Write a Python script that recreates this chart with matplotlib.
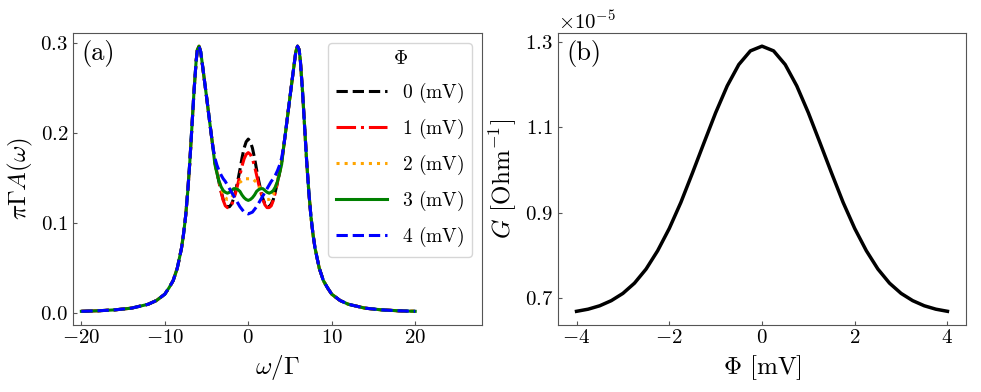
import numpy as np
import matplotlib
matplotlib.use("Agg")
import matplotlib.pyplot as plt

plt.rcParams["font.family"] = "serif"
plt.rcParams["font.serif"] = ["cmr10"]
plt.rcParams["mathtext.fontset"] = "cm"
plt.rcParams["axes.formatter.use_mathtext"] = True
plt.rcParams["axes.unicode_minus"] = True

# panel (a): spectral function, outer parts shared by all curves
omega_left = [-20, -18, -16, -14, -12, -11, -10, -9.5, -9, -8.5, -8, -7.75, -7.5,
              -7.25, -7, -6.75, -6.5, -6.25, -6.1, -5.9, -5.7, -5.5, -5, -4.5, -4.25]
A_left = [0.002, 0.0026, 0.0036, 0.0055, 0.0098, 0.014, 0.021, 0.028, 0.036, 0.050,
          0.072, 0.088, 0.108, 0.135, 0.168, 0.207, 0.246, 0.279, 0.292, 0.296,
          0.290, 0.276, 0.240, 0.203, 0.185]

omega_right = [4.25, 4.5, 5, 5.5, 5.7, 5.9, 6.1, 6.25, 6.5, 6.75, 7, 7.25, 7.5, 7.75,
               8, 8.5, 9, 9.5, 10, 11, 12, 14, 16, 18, 20]
A_right = [0.185, 0.203, 0.240, 0.276, 0.290, 0.296, 0.292, 0.279, 0.246, 0.207,
           0.168, 0.135, 0.108, 0.088, 0.072, 0.050, 0.036, 0.028, 0.021, 0.014,
           0.0098, 0.0055, 0.0036, 0.0026, 0.002]

omega_center = [-4, -3.75, -3.5, -3.25, -3, -2.75, -2.5, -2.25, -2, -1.75, -1.5, -1.25,
                -1, -0.75, -0.5, -0.25, 0, 0.25, 0.5, 0.75, 1, 1.25, 1.5, 1.75, 2,
                2.25, 2.5, 2.75, 3, 3.25, 3.5, 3.75, 4]

A_phi0 = [0.168, 0.156, 0.145, 0.135, 0.126, 0.121, 0.118, 0.118, 0.121, 0.127, 0.136,
          0.147, 0.159, 0.172, 0.183, 0.190, 0.193, 0.190, 0.183, 0.172, 0.159, 0.147,
          0.136, 0.127, 0.121, 0.118, 0.118, 0.121, 0.126, 0.135, 0.145, 0.156, 0.168]
A_phi1 = [0.168, 0.156, 0.145, 0.134, 0.125, 0.119, 0.117, 0.117, 0.120, 0.126, 0.134,
          0.143, 0.153, 0.163, 0.171, 0.176, 0.178, 0.176, 0.171, 0.163, 0.153, 0.143,
          0.134, 0.126, 0.120, 0.117, 0.117, 0.119, 0.125, 0.134, 0.145, 0.156, 0.168]
A_phi2 = [0.168, 0.157, 0.147, 0.139, 0.132, 0.128, 0.126, 0.126, 0.128, 0.132, 0.137,
          0.141, 0.145, 0.147, 0.149, 0.149, 0.149, 0.149, 0.149, 0.147, 0.145, 0.141,
          0.137, 0.132, 0.128, 0.126, 0.126, 0.128, 0.132, 0.139, 0.147, 0.157, 0.168]
A_phi3 = [0.165, 0.155, 0.146, 0.140, 0.136, 0.134, 0.133, 0.134, 0.136, 0.138, 0.138,
          0.137, 0.135, 0.131, 0.128, 0.126, 0.125, 0.126, 0.128, 0.131, 0.135, 0.137,
          0.138, 0.138, 0.136, 0.134, 0.133, 0.134, 0.136, 0.140, 0.146, 0.155, 0.165]
A_phi4 = [0.172, 0.164, 0.158, 0.153, 0.149, 0.146, 0.142, 0.138, 0.134, 0.130, 0.126,
          0.122, 0.118, 0.115, 0.112, 0.111, 0.110, 0.111, 0.112, 0.115, 0.118, 0.122,
          0.126, 0.130, 0.134, 0.138, 0.142, 0.146, 0.149, 0.153, 0.158, 0.164, 0.172]

phi_labels = ["0", "1", "2", "3", "4"]
styles = [("black", "--"), ("red", "-."), ("orange", ":"), ("green", "-"), ("blue", "--")]

# panel (b): conductance vs Phi (units of 1e-5 Ohm^-1)
phi = [-4, -3.75, -3.5, -3.25, -3, -2.75, -2.5, -2.25, -2, -1.75, -1.5, -1.25, -1,
       -0.75, -0.5, -0.25, 0, 0.25, 0.5, 0.75, 1, 1.25, 1.5, 1.75, 2, 2.25, 2.5, 2.75,
       3, 3.25, 3.5, 3.75, 4]
G = [0.669, 0.674, 0.682, 0.694, 0.711, 0.735, 0.768, 0.811, 0.863, 0.924, 0.993,
     1.064, 1.134, 1.197, 1.247, 1.279, 1.290, 1.279, 1.247, 1.197, 1.134, 1.064,
     0.993, 0.924, 0.863, 0.811, 0.768, 0.735, 0.711, 0.694, 0.682, 0.674, 0.669]


def style_axes(ax):
    for s in ax.spines.values():
        s.set_color("#555555")
    ax.tick_params(direction="in", length=3, color="#555555", labelsize=15)


def main():
    fig = plt.figure(figsize=(9.81, 3.92), dpi=100)
    ax1 = fig.add_axes([0.0744, 0.172, 0.4169, 0.744])
    ax2 = fig.add_axes([0.5688, 0.172, 0.4159, 0.744])

    curves = [A_phi0, A_phi1, A_phi2, A_phi3, A_phi4]
    for lab, vals, (c, ls) in zip(phi_labels, curves, styles):
        x = omega_left + omega_center + omega_right
        y = A_left + vals + A_right
        ax1.plot(x, y, color=c, linestyle=ls, linewidth=2.2, label=r"$%s$ (mV)" % lab)

    ax1.set_xlim(-21, 28)
    ax1.set_xticks([-20, -10, 0, 10, 20])
    ax1.set_yticks([0.0, 0.1, 0.2, 0.3])
    ax1.set_xlabel(r"$\omega/\Gamma$", fontsize=18)
    ax1.set_ylabel(r"$\pi\Gamma A(\omega)$", fontsize=18)
    ax1.text(0.02, 0.975, "(a)", transform=ax1.transAxes, fontsize=19, va="top", ha="left")
    ax1.legend(title=r"$\Phi$", loc="upper right", fontsize=14, title_fontsize=14,
               handlelength=2.6, labelspacing=0.62)
    style_axes(ax1)

    ax2.plot(phi, np.array(G) * 1e-5, color="black", linewidth=2.5)
    ax2.set_xticks([-4, -2, 0, 2, 4])
    ax2.set_yticks(np.array([0.7, 0.9, 1.1, 1.3]) * 1e-5)
    ax2.ticklabel_format(axis="y", style="sci", scilimits=(0, 0), useMathText=True)
    ax2.yaxis.get_offset_text().set_fontsize(15)
    ax2.set_xlabel(r"$\Phi$ [mV]", fontsize=18)
    ax2.set_ylabel(r"$G$ [Ohm$^{-1}$]", fontsize=18)
    ax2.text(0.02, 0.975, "(b)", transform=ax2.transAxes, fontsize=19, va="top", ha="left")
    style_axes(ax2)

    fig.savefig("out.png", dpi=100)


if __name__ == "__main__":
    main()
